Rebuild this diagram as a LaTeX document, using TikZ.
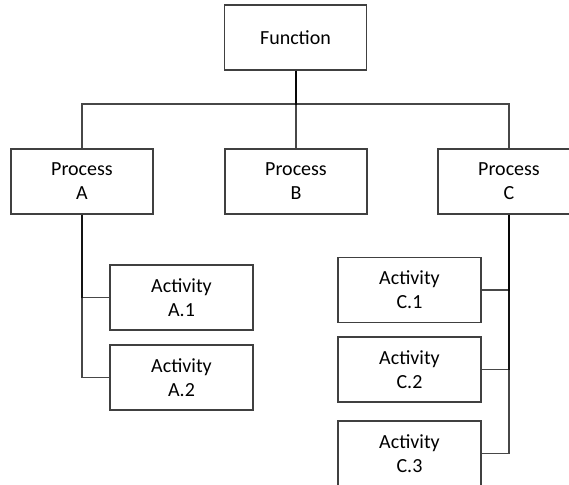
\documentclass[tikz,border=0pt]{standalone}
\usepackage{fontspec}
\setmainfont{Carlito}
\begin{document}
\begin{tikzpicture}[x=1pt,y=-1pt,
  box/.style={draw=black!75, line width=1.2pt, fill=white, inner sep=0pt,
    minimum width=142pt, minimum height=65pt, align=center,
    font=\fontsize{20}{24}\selectfont},
  link/.style={draw=black, draw opacity=0.72, line width=1.3pt}]
\useasboundingbox (0,0) rectangle (569,484);
\clip (0,0) rectangle (569,484);

% top level and processes
\node[box] (F)  at (295.5,37.5) {Function};
\node[box] (PA) at (82,181.5)   {Process\\A};
\node[box] (PB) at (296,181.5)  {Process\\B};
\node[box] (PC) at (509,181.5)  {Process\\C};

% activities under A
\node[box, minimum width=143pt] (A1) at (181.5,297.5) {Activity\\A.1};
\node[box, minimum width=143pt] (A2) at (181.5,377.5) {Activity\\A.2};

% activities under C
\node[box, minimum width=143pt] (C1) at (409.5,290)   {Activity\\C.1};
\node[box, minimum width=143pt] (C2) at (409.5,369.5) {Activity\\C.2};
\node[box, minimum width=143pt] (C3) at (409.5,453.5) {Activity\\C.3};

% bus under Function
\coordinate (bus) at (296,104);
\draw[link] (F.south -| bus) -- (bus) -| (PA.north);
\draw[link] (F.south -| bus) -- (bus) -- (PB.north);
\draw[link] (F.south -| bus) -- (bus) -| (PC.north);

% elbows to activities
\draw[link] (PA.south) |- (A1.west);
\draw[link] (PA.south) |- (A2.west);
\draw[link] (PC.south) |- (C1.east);
\draw[link] (PC.south) |- (C2.east);
\draw[link] (PC.south) |- (C3.east);
\end{tikzpicture}
\end{document}
